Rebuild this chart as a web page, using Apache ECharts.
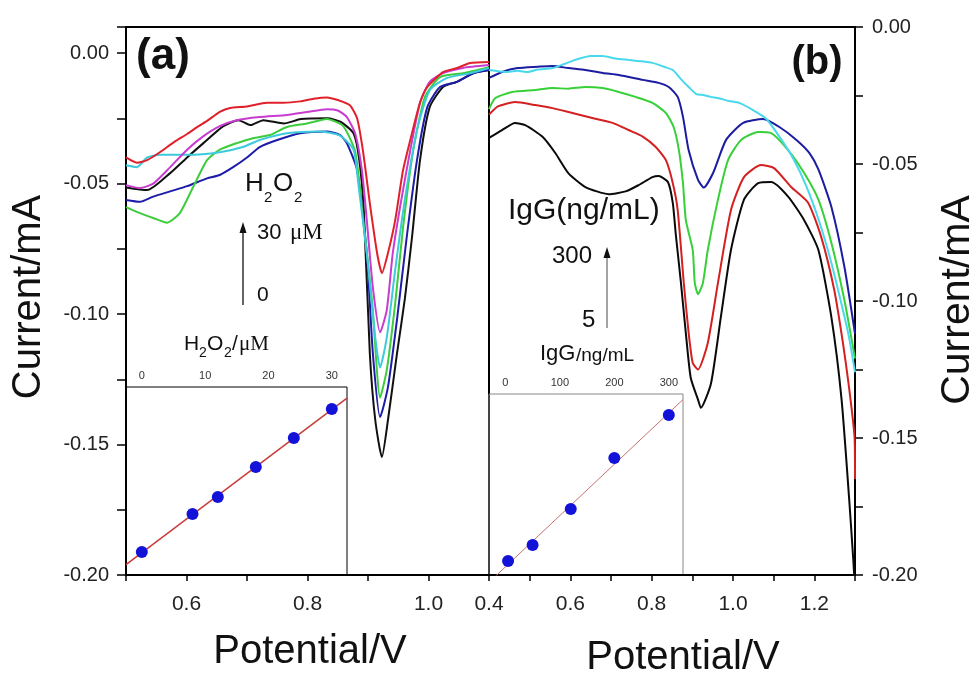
<!DOCTYPE html>
<html><head><meta charset="utf-8">
<script src="https://cdn.jsdelivr.net/npm/echarts/dist/echarts.min.js"></script>
<style>html,body{margin:0;padding:0;background:#fff}#c{width:974px;height:675px}</style>
</head><body><div id="c"></div>
<script>
// ---------- DATA ----------
// Panel (a): DPV curves, H2O2 0..30 uM  [potential V, current mA]
const a_black = [[0.500,-0.0515],[0.535,-0.0525],[0.573,-0.046],[0.601,-0.040],[0.628,-0.0345],[0.661,-0.028],[0.686,-0.0257],[0.706,-0.0276],[0.727,-0.0257],[0.761,-0.027],[0.789,-0.0253],[0.833,-0.025],[0.855,-0.0264],[0.876,-0.0307],[0.885,-0.040],[0.893,-0.060],[0.903,-0.115],[0.912,-0.1406],[0.923,-0.1548],[0.933,-0.1406],[0.948,-0.115],[0.961,-0.094],[0.973,-0.070],[0.986,-0.041],[1.002,-0.0207],[1.024,-0.013],[1.047,-0.011],[1.074,-0.0077],[1.100,-0.0065]];
const a_blue = [[0.500,-0.0563],[0.523,-0.057],[0.545,-0.055],[0.573,-0.053],[0.601,-0.051],[0.634,-0.048],[0.655,-0.0467],[0.677,-0.0437],[0.700,-0.040],[0.721,-0.036],[0.750,-0.0333],[0.788,-0.0307],[0.832,-0.030],[0.854,-0.0314],[0.865,-0.0345],[0.882,-0.0448],[0.898,-0.0766],[0.908,-0.115],[0.920,-0.1395],[0.933,-0.128],[0.948,-0.102],[0.964,-0.0705],[0.981,-0.041],[0.998,-0.0207],[1.019,-0.013],[1.047,-0.011],[1.074,-0.0077],[1.100,-0.0065]];
const a_green = [[0.500,-0.059],[0.523,-0.0613],[0.545,-0.0632],[0.568,-0.065],[0.589,-0.0613],[0.611,-0.0513],[0.634,-0.041],[0.655,-0.037],[0.683,-0.0345],[0.710,-0.0326],[0.738,-0.0314],[0.766,-0.0283],[0.799,-0.027],[0.832,-0.0253],[0.859,-0.028],[0.879,-0.038],[0.892,-0.064],[0.907,-0.0958],[0.920,-0.132],[0.931,-0.1215],[0.945,-0.0958],[0.958,-0.0667],[0.974,-0.0383],[0.994,-0.0169],[1.019,-0.0092],[1.057,-0.0077],[1.100,-0.0054]];
const a_cyan = [[0.500,-0.043],[0.518,-0.0437],[0.535,-0.040],[0.556,-0.039],[0.601,-0.039],[0.655,-0.038],[0.693,-0.036],[0.721,-0.0333],[0.766,-0.0307],[0.820,-0.030],[0.853,-0.0315],[0.876,-0.037],[0.884,-0.050],[0.898,-0.0766],[0.912,-0.109],[0.920,-0.1205],[0.931,-0.109],[0.945,-0.083],[0.960,-0.0575],[0.981,-0.0295],[1.002,-0.0142],[1.030,-0.0096],[1.069,-0.0077],[1.100,-0.0057]];
const a_magenta = [[0.500,-0.0506],[0.523,-0.0517],[0.545,-0.050],[0.573,-0.0437],[0.601,-0.037],[0.627,-0.032],[0.655,-0.028],[0.683,-0.0257],[0.721,-0.0245],[0.766,-0.0237],[0.799,-0.0226],[0.832,-0.0215],[0.850,-0.022],[0.865,-0.0245],[0.879,-0.031],[0.890,-0.045],[0.898,-0.064],[0.908,-0.0897],[0.920,-0.107],[0.931,-0.0985],[0.941,-0.0766],[0.953,-0.059],[0.969,-0.0383],[0.986,-0.019],[1.002,-0.011],[1.024,-0.0077],[1.057,-0.0057],[1.100,-0.0046]];
const a_red = [[0.500,-0.040],[0.518,-0.042],[0.535,-0.041],[0.556,-0.038],[0.580,-0.034],[0.601,-0.031],[0.620,-0.028],[0.634,-0.026],[0.655,-0.0225],[0.672,-0.021],[0.700,-0.0205],[0.733,-0.019],[0.760,-0.019],[0.788,-0.0185],[0.810,-0.0175],[0.832,-0.017],[0.850,-0.018],[0.870,-0.020],[0.882,-0.025],[0.892,-0.038],[0.903,-0.0575],[0.915,-0.0766],[0.923,-0.0843],[0.933,-0.0766],[0.945,-0.064],[0.958,-0.0448],[0.974,-0.0295],[0.986,-0.019],[0.998,-0.013],[1.024,-0.0073],[1.047,-0.0057],[1.069,-0.0038],[1.100,-0.0034]];

// Panel (b): IgG 5..300 ng/mL
const b_black = [[0.400,-0.0405],[0.432,-0.0376],[0.464,-0.035],[0.489,-0.0358],[0.531,-0.040],[0.563,-0.046],[0.595,-0.0533],[0.637,-0.0584],[0.694,-0.061],[0.736,-0.060],[0.768,-0.0577],[0.802,-0.0548],[0.817,-0.0544],[0.840,-0.0566],[0.852,-0.0643],[0.859,-0.0752],[0.872,-0.0934],[0.884,-0.1117],[0.896,-0.128],[0.914,-0.136],[0.921,-0.139],[0.946,-0.130],[0.970,-0.106],[0.995,-0.0814],[1.027,-0.063],[1.062,-0.057],[1.094,-0.0566],[1.136,-0.062],[1.175,-0.0705],[1.210,-0.0814],[1.242,-0.106],[1.267,-0.136],[1.286,-0.173],[1.296,-0.195],[1.300,-0.205]];
const b_red = [[0.400,-0.032],[0.422,-0.029],[0.464,-0.0274],[0.514,-0.0285],[0.556,-0.0296],[0.605,-0.0314],[0.654,-0.0332],[0.704,-0.035],[0.743,-0.0376],[0.778,-0.040],[0.810,-0.0438],[0.835,-0.0486],[0.852,-0.057],[0.864,-0.0668],[0.879,-0.0934],[0.891,-0.1117],[0.901,-0.1226],[0.914,-0.125],[0.938,-0.1153],[0.963,-0.0934],[0.995,-0.0668],[1.027,-0.0548],[1.069,-0.0504],[1.101,-0.0515],[1.143,-0.0584],[1.185,-0.0642],[1.217,-0.0767],[1.249,-0.096],[1.270,-0.115],[1.284,-0.130],[1.299,-0.150],[1.300,-0.165]];
const b_green = [[0.400,-0.030],[0.415,-0.026],[0.457,-0.0237],[0.514,-0.023],[0.556,-0.0223],[0.595,-0.0225],[0.637,-0.0219],[0.679,-0.0223],[0.719,-0.0237],[0.760,-0.0255],[0.802,-0.0277],[0.835,-0.0314],[0.854,-0.0365],[0.867,-0.045],[0.877,-0.057],[0.884,-0.0705],[0.901,-0.0814],[0.906,-0.0934],[0.914,-0.0975],[0.926,-0.0934],[0.938,-0.0814],[0.963,-0.063],[0.988,-0.0485],[1.020,-0.0412],[1.062,-0.0383],[1.094,-0.0387],[1.136,-0.045],[1.175,-0.0533],[1.210,-0.063],[1.242,-0.0788],[1.274,-0.0997],[1.300,-0.121]];
const b_blue = [[0.400,-0.0186],[0.432,-0.0164],[0.470,-0.015],[0.520,-0.0145],[0.556,-0.0142],[0.595,-0.015],[0.637,-0.0157],[0.680,-0.0168],[0.719,-0.0175],[0.778,-0.0193],[0.817,-0.0204],[0.842,-0.0219],[0.864,-0.0255],[0.877,-0.0328],[0.891,-0.045],[0.914,-0.0558],[0.928,-0.0586],[0.951,-0.0533],[0.983,-0.0412],[1.025,-0.035],[1.074,-0.0336],[1.114,-0.0365],[1.156,-0.0412],[1.188,-0.046],[1.210,-0.052],[1.242,-0.0657],[1.274,-0.0876],[1.300,-0.112]];
const b_cyan = [[0.400,-0.0157],[0.440,-0.0164],[0.470,-0.016],[0.496,-0.0164],[0.520,-0.0155],[0.556,-0.015],[0.585,-0.0135],[0.612,-0.012],[0.650,-0.0106],[0.679,-0.0106],[0.710,-0.0115],[0.743,-0.012],[0.775,-0.0125],[0.802,-0.0131],[0.830,-0.0145],[0.852,-0.0157],[0.872,-0.019],[0.891,-0.0219],[0.910,-0.0245],[0.926,-0.0248],[0.945,-0.0255],[0.965,-0.026],[0.990,-0.027],[1.015,-0.0277],[1.049,-0.0303],[1.081,-0.0334],[1.114,-0.040],[1.148,-0.048],[1.180,-0.058],[1.212,-0.071],[1.240,-0.085],[1.265,-0.100],[1.285,-0.113],[1.300,-0.126]];

// Insets: calibration points (relative response units)
const insetA_conc = [0, 8, 12, 18, 24, 30];
const insetA_resp = [1.22, 3.24, 4.15, 5.74, 7.29, 8.83];
const insetB_conc = [5, 50, 120, 200, 300];
const insetB_resp = [0.77, 1.66, 3.65, 6.46, 8.84];
const insetA_range = [-2.5, 32.4];
const insetB_range = [-30, 326];
const insetA_ticks = [0, 10, 20, 30];
const insetB_ticks = [0, 100, 200, 300];

// ---------- helpers ----------
const SANS = '"Liberation Sans", Arial, Helvetica, sans-serif';
const SERIF = '"Liberation Serif", "Times New Roman", serif';
function pairs(xs, ys){ return xs.map((x,i)=>[x, ys[i]]); }
function fitLine(xs, ys, range){
  const n = xs.length, mx = xs.reduce((a,b)=>a+b,0)/n, my = ys.reduce((a,b)=>a+b,0)/n;
  let sxx=0, sxy=0; xs.forEach((x,i)=>{ sxx+=(x-mx)*(x-mx); sxy+=(x-mx)*(ys[i]-my); });
  const k = sxy/sxx, b = my - k*mx;
  return range.map(x=>[x, k*x+b]);
}
function line(data, color, idx, z){
  return {type:'line', xAxisIndex:idx, yAxisIndex:idx, data:data, showSymbol:false, symbol:'none',
    smooth:0.2, lineStyle:{color:color, width:2}, itemStyle:{color:color}, z:z, silent:true, animation:false};
}
function yFmt(v){ const k=Math.round(v*1000); if (k%50!==0 || k>0) return ''; return k===0 ? '0.00' : (k/1000).toFixed(2); }
function xFmt(v){ const k=Math.round(v*10); if (k%2!==0) return ''; return (k/10).toFixed(1); }
function listFmt(list){ return v => { const r=Math.round(v); return (Math.abs(v-r)<1e-6 && list.indexOf(r)>=0) ? String(r) : ''; }; }
function txt(x, y, s, size, o){
  o = o || {};
  return {type:'text', x:x, y:y, rotation:o.rot||0, z:100,
    style:{text:s, fill:o.fill||'#111', fontSize:size, fontFamily:o.fam||SANS, fontWeight:o.bold?'bold':'normal',
      align:o.align||'left', verticalAlign:'middle', textAlign:o.align||'left', textVerticalAlign:'middle'}};
}
const yLbl = {fontFamily:SANS, fontSize:20, color:'#222'};
const xLbl = {fontFamily:SANS, fontSize:21, color:'#222'};

const chart = echarts.init(document.getElementById('c'), null, {renderer:'canvas'});
chart.setOption({
  animation:false,
  backgroundColor:'#fff',
  grid:[
    {left:126, top:27, width:363, height:548, show:true, borderColor:'#000', borderWidth:2},
    {left:489, top:27, width:366, height:548, show:true, borderColor:'#000', borderWidth:2},
    {left:126, top:387, width:221, height:188, show:true, borderColor:'#000', borderWidth:1},
    {left:489, top:394, width:194, height:181, show:true, borderColor:'#888', borderWidth:1}
  ],
  xAxis:[
    {gridIndex:0, type:'value', min:0.5, max:1.1, interval:0.1,
     axisLine:{onZero:false, lineStyle:{color:'#000', width:2}}, axisTick:{length:6, lineStyle:{color:'#000', width:1.5}},
     axisLabel:Object.assign({margin:19, formatter:xFmt, showMinLabel:true, showMaxLabel:true}, xLbl), splitLine:{show:false}},
    {gridIndex:1, type:'value', min:0.4, max:1.3, interval:0.1,
     axisLine:{onZero:false, lineStyle:{color:'#000', width:2}}, axisTick:{length:6, lineStyle:{color:'#000', width:1.5}},
     axisLabel:Object.assign({margin:19, formatter:xFmt, showMinLabel:true, showMaxLabel:true}, xLbl), splitLine:{show:false}},
    {gridIndex:2, type:'value', position:'top', min:insetA_range[0], max:insetA_range[1], interval:2.5,
     axisLine:{show:false, onZero:false}, axisTick:{show:false},
     axisLabel:{margin:6, fontFamily:SANS, fontSize:11, color:'#333', formatter:listFmt(insetA_ticks), showMinLabel:true, showMaxLabel:true},
     splitLine:{show:false}},
    {gridIndex:3, type:'value', position:'top', min:insetB_range[0], max:insetB_range[1], interval:10,
     axisLine:{show:false, onZero:false}, axisTick:{show:false},
     axisLabel:{margin:6, fontFamily:SANS, fontSize:11, color:'#333', formatter:listFmt(insetB_ticks), showMinLabel:true, showMaxLabel:true},
     splitLine:{show:false}}
  ],
  yAxis:[
    {gridIndex:0, type:'value', min:-0.2, max:0.01, interval:0.025,
     axisLine:{onZero:false, lineStyle:{color:'#000', width:2}}, axisTick:{length:9, lineStyle:{color:'#000', width:1.5}},
     axisLabel:Object.assign({margin:17, formatter:yFmt}, yLbl), splitLine:{show:false}},
    {gridIndex:1, type:'value', position:'right', min:-0.2, max:0, interval:0.025,
     axisLine:{onZero:false, lineStyle:{color:'#000', width:2}}, axisTick:{length:8, lineStyle:{color:'#000', width:1.5}},
     axisLabel:Object.assign({margin:17, formatter:yFmt}, yLbl), splitLine:{show:false}},
    {gridIndex:2, type:'value', min:0, max:10, show:false},
    {gridIndex:3, type:'value', min:0, max:10, show:false}
  ],
  series:[
    line(a_black,'#111111',0,2), line(a_blue,'#1c1ca8',0,3), line(a_green,'#3ccc3c',0,4),
    line(a_cyan,'#3ccadc',0,5), line(a_magenta,'#c83cd0',0,6), line(a_red,'#e0202a',0,7),
    line(b_black,'#0a0a0a',1,2), line(b_red,'#d42020',1,3), line(b_green,'#38d038',1,4),
    line(b_blue,'#1c1ca0',1,5), line(b_cyan,'#48d8ec',1,6),
    {type:'line', xAxisIndex:2, yAxisIndex:2, data:fitLine(insetA_conc, insetA_resp, insetA_range), showSymbol:false, symbol:'none', lineStyle:{color:'#c83c3c', width:1.5}, z:8, silent:true},
    {type:'scatter', xAxisIndex:2, yAxisIndex:2, data:pairs(insetA_conc, insetA_resp), symbolSize:12, itemStyle:{color:'#1212d8', opacity:1}, z:9, silent:true},
    {type:'line', xAxisIndex:3, yAxisIndex:3, data:fitLine(insetB_conc, insetB_resp, insetB_range), showSymbol:false, symbol:'none', lineStyle:{color:'#c87070', width:1}, z:8, silent:true},
    {type:'scatter', xAxisIndex:3, yAxisIndex:3, data:pairs(insetB_conc, insetB_resp), symbolSize:12, itemStyle:{color:'#1212d8', opacity:1}, z:9, silent:true}
  ],
  graphic:[
    // axis titles
    txt(29, 297, 'Current/mA', 40, {rot:Math.PI/2, align:'center'}),
    txt(958, 300, 'Current/mA', 41, {rot:Math.PI/2, align:'center'}),
    txt(310, 652, 'Potential/V', 40, {align:'center'}),
    txt(683, 658, 'Potential/V', 40, {align:'center'}),
    // panel letters
    txt(163, 57, '(a)', 44, {align:'center', bold:true}),
    txt(817, 63, '(b)', 40, {align:'center', bold:true}),
    // panel (a) annotations
    txt(245, 184, 'H', 26), txt(264, 198, '2', 15), txt(273, 184, 'O', 26), txt(294, 198, '2', 15),
    txt(257, 233, '30', 22), txt(290, 233, 'μM', 23, {fam:SERIF}),
    txt(257, 295, '0', 21),
    {type:'line', z:100, shape:{x1:243, y1:305, x2:243, y2:231}, style:{stroke:'#111', lineWidth:1.3}},
    {type:'polygon', z:100, shape:{points:[[243,222],[239.5,233],[246.5,233]]}, style:{fill:'#111'}},
    // inset (a) title
    txt(184, 344, 'H', 21), txt(199, 353, '2', 14), txt(207, 344, 'O', 21), txt(224, 353, '2', 14),
    txt(232, 344, '/', 21), txt(239, 344, 'μM', 21, {fam:SERIF}),
    // panel (b) annotations
    txt(508, 211, 'IgG(ng/mL)', 30),
    txt(552, 256, '300', 24), txt(582, 320, '5', 24),
    {type:'line', z:100, shape:{x1:607, y1:328, x2:607, y2:256}, style:{stroke:'#666', lineWidth:1.2}},
    {type:'polygon', z:100, shape:{points:[[607,247],[603.5,258],[610.5,258]]}, style:{fill:'#111'}},
    // inset (b) title
    txt(540, 354, 'IgG', 22), txt(576, 356, '/ng/mL', 19)
  ]
});
</script></body></html>
